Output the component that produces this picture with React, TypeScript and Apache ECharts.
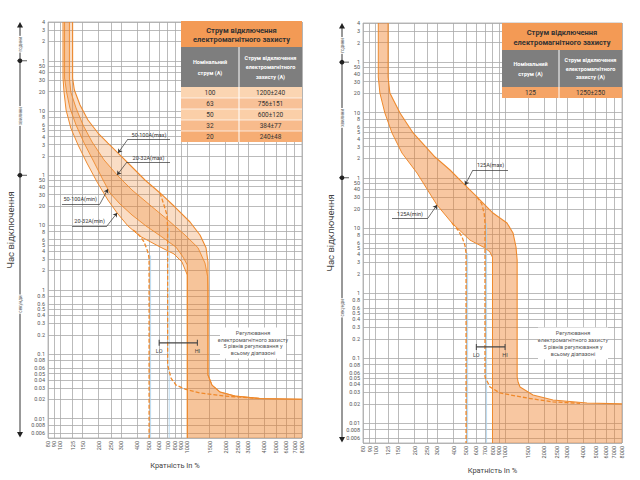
import React, { useEffect, useRef } from 'react';
import * as echarts from 'echarts';

// ---------- axes ----------
const xTickValues = [80, 90, 100, 125, 150, 200, 250, 300, 400, 500, 600, 700, 800, 900, 1000, 1500, 2000, 2500, 3000, 4000, 5000, 6000, 7000, 8000];
const yTickValues = [14400, 10800, 7200, 3600, 3000, 2400, 1800, 1200, 600, 480, 360, 300, 240, 180, 120, 60, 50, 40, 30, 20, 10, 8, 6, 5, 4, 3, 2, 1, 0.8, 0.6, 0.5, 0.4, 0.3, 0.2, 0.1, 0.08, 0.06, 0.05, 0.04, 0.03, 0.02, 0.01, 0.008, 0.006, 0.005];
const yTickLabels = ['4', '3', '2', '1', '50', '40', '30', '20', '10', '8', '6', '5', '4', '3', '2', '1', '50', '40', '30', '20', '10', '8', '6', '5', '4', '3', '2', '1', '0.8', '0.6', '0.5', '0.4', '0.3', '0.2', '0.1', '0.08', '0.06', '0.05', '0.04', '0.03', '0.02', '0.01', '0.008', '0.006', '0.005'];

// ---------- left panel curves: [In %, seconds] ----------
const curve2032Min = [[105, 14400], [105, 1945], [107, 1179], [111, 619], [121, 325], [138, 177], [162, 93], [195, 47], [237, 24.8], [280, 15.6], [341, 9.8], [424, 6.8], [588, 4.8], [786, 3.6], [908, 2.7], [1000, 1.7], [1000, 0.005]];
const curve50100Min = [[108, 14400], [108, 1945], [112, 1179], [119, 665], [133, 362], [154, 190], [184, 96.5], [217, 50.7], [246, 31.9], [295, 21.5], [367, 14.5], [473, 9.8], [632, 6.6], [815, 4.6], [925, 3.23], [1000, 2.43], [1000, 0.005]];
const curve2032Max = [[118, 14400], [118, 1945], [121, 1179], [133, 665], [151, 362], [178, 197], [221, 104], [280, 60.6], [367, 35.4], [508, 20.7], [705, 12.1], [959, 7.1], [1214, 4.5], [1378, 2.6], [1445, 1.6], [1455, 1.0], [1455, 0.0475], [1564, 0.0332], [1809, 0.0259], [2374, 0.0224], [3736, 0.0205], [8000, 0.02]];
const curve50100Max = [[125, 14400], [125, 1945], [129, 1266], [143, 741], [165, 433], [198, 272], [237, 190], [285, 133], [354, 86.7], [464, 50.7], [610, 31.9], [800, 19.3], [1050, 11.3], [1259, 7.1], [1404, 4.5], [1455, 2.7], [1455, 0.0475], [1564, 0.0332], [1809, 0.0259], [2374, 0.0224], [3736, 0.0205], [8000, 0.02]];
const leftDashLoMin = [[375, 8.5], [420, 7.0], [455, 5.6], [478, 4.4], [494, 3.6], [500, 3.0], [500, 0.005]];
const leftDashLoMax = [[610, 31.9], [655, 20.7], [692, 14.5], [700, 9.1], [700, 0.068], [744, 0.0427], [815, 0.0332], [959, 0.0288], [1259, 0.025], [1981, 0.0224], [3736, 0.0205]];
const leftBlue1 = [[514, 3.4], [514, 0.005]];
const leftBlue2 = [[720, 9], [720, 0.005]];
const leftLoHi = [[600, 0.15], [1200, 0.15]];

// ---------- right panel curves ----------
const curve125Min = [[105, 14400], [105, 2128], [108, 1207], [118, 595], [134, 293], [160, 144], [209, 71], [298, 22.9], [389, 12.1], [536, 6.6], [700, 5.0], [765, 4.33], [800, 3.6], [800, 0.005]];
const curve125Max = [[125, 14400], [125, 2128], [129, 1207], [154.5, 595], [195, 293], [288, 125], [376, 79], [491, 46.4], [607, 30.4], [807, 17.2], [1035, 12.1], [1152, 8.5], [1215, 5.17], [1240, 3.26], [1240, 0.0518], [1262, 0.043], [1305, 0.0363], [1644, 0.0274], [2346, 0.0229], [4294, 0.0206], [8000, 0.02]];
const rightDashLoMin = [[389, 12.1], [433, 9.4], [465, 7.4], [490, 5.5], [500, 4.2], [500, 0.005]];
const rightDashLoMax = [[607, 30.4], [660, 24], [690, 17], [700, 12], [700, 0.052], [765, 0.0363], [914, 0.0294], [1477, 0.0246], [2346, 0.0214], [3792, 0.0204]];
const rightBlue1 = [[514, 4.2], [514, 0.005]];
const rightBlue2 = [[720, 12], [720, 0.005]];
const rightLoHi = [[600, 0.15], [1000, 0.15]];

// ---------- annotations ----------
const leftNotes = [
  { text: '50-100A(max)', from: [341, 219.6], to: [731, 219.6], tip: [285, 133], atStart: true, pos: 'insideMiddleTop' },
  { text: '20-32A(max)', from: [335, 96.5], to: [731, 96.5], tip: [280, 60.6], atStart: true, pos: 'insideMiddleTop' },
  { text: '50-100A(min)', from: [103, 21.5], to: [205, 21.5], tip: [237, 36.6], atStart: false, pos: 'insideStartTop' },
  { text: '20-32A(min)', from: [124, 9.8], to: [233, 9.8], tip: [280, 15.6], atStart: false, pos: 'insideMiddleTop' },
];
const rightNotes = [
  { text: '125A(max)', from: [565, 79], to: [1054, 79], tip: [491, 46.4], atStart: true, pos: 'insideMiddleTop' },
  { text: '125A(min)', from: [134, 14.4], to: [254, 14.4], tip: [298, 22.9], atStart: false, pos: 'insideMiddleTop' },
];

// ---------- table texts ----------
const tableTitle = ['Струм відключення', 'електромагнітного захисту'];
const tableColHead1 = ['Номінальний', 'струм (А)'];
const tableColHead2 = ['Струм відключення', 'електромагнітного', 'захисту (А)'];
const leftRatings = ['100', '63', '50', '32', '20'];
const leftTripCurrents = ['1200±240', '756±151', '600±120', '384±77', '240±48'];
const rightRatings = ['125'];
const rightTripCurrents = ['1250±250'];
const adjustText = ['Регулювання', 'електромагнітного захисту', '5 рівнів регулювання у', 'всьому діапазоні'];
const timeUnits = ['години', 'хвилини', 'секунди'];
const loHiLabels = ['LO', 'HI'];

const FONT = 'Roboto, "Noto Sans", sans-serif';
const GRIDC = '#aaaaaa';
const ORANGE = '#ee8a2e';
const DASH = '#f0892a';

const yLabelFor = (v: number) => {
  let best = 0;
  let bd = Infinity;
  yTickValues.forEach((t, i) => {
    const d = Math.abs(Math.log(v / t));
    if (d < bd) { bd = d; best = i; }
  });
  return yTickLabels[best];
};

function xAxisOf(i: number) {
  return {
    type: 'log', logBase: 10, min: 80, max: 8000, gridIndex: i,
    name: 'Кратність In %', nameLocation: 'middle', nameGap: i === 0 ? 20 : 17,
    nameTextStyle: { fontSize: 7.5, color: '#444', fontFamily: FONT },
    axisLine: { show: false },
    axisTick: { show: false, customValues: xTickValues },
    axisLabel: { customValues: xTickValues, rotate: 90, fontSize: 5.5, color: '#555', margin: 3, fontFamily: FONT, formatter: (v: number) => String(Math.round(v)) },
    splitLine: { show: true, lineStyle: { color: GRIDC, width: 0.8 } },
    minorTick: { show: false }, minorSplitLine: { show: false },
  };
}
function yAxisOf(i: number) {
  return {
    type: 'log', logBase: 10, min: 0.005, max: 14400, gridIndex: i,
    name: 'Час відключення', nameLocation: 'middle', nameGap: i === 0 ? 33 : 28, nameRotate: 90,
    nameTextStyle: { fontSize: 9.5, color: '#444', fontFamily: FONT },
    axisLine: { show: false },
    axisTick: { show: false, customValues: yTickValues },
    axisLabel: { customValues: yTickValues, fontSize: 5.5, color: '#555', margin: 3, fontFamily: FONT, formatter: (v: number) => yLabelFor(v) },
    splitLine: { show: true, lineStyle: { color: GRIDC, width: 0.8 } },
    minorTick: { show: false }, minorSplitLine: { show: false },
  };
}

function fillSeries(gi: number, lower: number[][], upper: number[][], color: string) {
  return {
    type: 'custom', xAxisIndex: gi, yAxisIndex: gi, silent: true, z: 1,
    data: [[200, 1]],
    renderItem: (_p: any, api: any) => {
      const pts = lower.concat([[8000, 0.005]], upper.slice().reverse()).map((p) => api.coord(p));
      return { type: 'polygon', shape: { points: pts }, style: { fill: color } };
    },
  };
}
function lineSeries(gi: number, data: number[][], style: any, extra: any = {}) {
  return {
    type: 'line', xAxisIndex: gi, yAxisIndex: gi, data, symbol: 'none', showSymbol: false, silent: true, z: 3,
    lineStyle: { color: ORANGE, width: 1, ...style }, ...extra,
  };
}
function notesMarkLine(notes: any[]) {
  const data: any[] = [];
  notes.forEach((n) => {
    data.push([
      { coord: n.from, symbol: 'none', label: { show: true, formatter: n.text, position: n.pos, fontSize: 5.5, color: '#333', fontFamily: FONT, distance: 1.5 } },
      { coord: n.to, symbol: 'none' },
    ]);
    data.push([
      { coord: n.atStart ? n.from : n.to, symbol: 'none' },
      { coord: n.tip, symbol: 'arrow' },
    ]);
  });
  return {
    silent: true, animation: false, symbolSize: 4,
    lineStyle: { type: 'solid', color: '#333', width: 0.7 },
    label: { show: false },
    data,
  };
}
function loHiSeries(gi: number, pts: number[][]) {
  return {
    type: 'line', xAxisIndex: gi, yAxisIndex: gi, silent: true, z: 4,
    data: pts.map((p, i) => ({ value: p, label: { show: true, formatter: loHiLabels[i] } })),
    symbol: 'rect', symbolSize: [1, 6], showSymbol: true,
    lineStyle: { color: '#444', width: 1.2 }, itemStyle: { color: '#444' },
    label: { position: 'bottom', distance: 2, fontSize: 5.5, color: '#444', fontFamily: FONT },
  };
}

function buildOption() {
  const bandL = 'rgba(238,128,40,0.27)';
  const bandR = 'rgba(238,128,40,0.44)';
  const blue = { color: '#a8d0ec', width: 0.8 };
  const dashed = { color: DASH, width: 1.3, type: [4, 2] };
  return {
    animation: false,
    backgroundColor: '#fff',
    grid: [
      { left: 48, top: 22, width: 254, height: 416, show: true, borderColor: GRIDC, borderWidth: 0.8, outerBoundsMode: 'none' },
      { left: 363, top: 23, width: 259, height: 420, show: true, borderColor: GRIDC, borderWidth: 0.8, outerBoundsMode: 'none' },
    ],
    xAxis: [xAxisOf(0), xAxisOf(1)],
    yAxis: [yAxisOf(0), yAxisOf(1)],
    series: [
      fillSeries(0, curve2032Min, curve2032Max, bandL),
      fillSeries(0, curve50100Min, curve50100Max, bandL),
      lineSeries(0, leftBlue1, blue, { z: 2 }),
      lineSeries(0, leftBlue2, blue, { z: 2 }),
      lineSeries(0, curve2032Min, { width: 1 }, { markLine: notesMarkLine(leftNotes) }),
      lineSeries(0, curve50100Min, { width: 0.9 }),
      lineSeries(0, curve2032Max, { width: 0.9 }),
      lineSeries(0, curve50100Max, { width: 1.1 }),
      lineSeries(0, leftDashLoMin, dashed),
      lineSeries(0, leftDashLoMax, dashed),
      loHiSeries(0, leftLoHi),

      fillSeries(1, curve125Min, curve125Max, bandR),
      lineSeries(1, rightBlue1, blue, { z: 2 }),
      lineSeries(1, rightBlue2, blue, { z: 2 }),
      lineSeries(1, curve125Min, { width: 1 }, { markLine: notesMarkLine(rightNotes) }),
      lineSeries(1, curve125Max, { width: 1.1 }),
      lineSeries(1, rightDashLoMin, dashed),
      lineSeries(1, rightDashLoMax, dashed),
      loHiSeries(1, rightLoHi),
    ],
  };
}

function tableGraphics(x0: number, x1: number, xs: number, yTop: number, yHead: number, yGray: number, rowH: number, ratings: string[], currents: string[], rowColors: string[]) {
  const els: any[] = [];
  const Z = 100;
  els.push({ type: 'rect', z: Z, shape: { x: x0, y: yTop, width: x1 - x0, height: yHead - yTop }, style: { fill: '#f39a55' } });
  els.push({ type: 'rect', z: Z, shape: { x: x0, y: yHead, width: x1 - x0, height: yGray - yHead }, style: { fill: '#7e7e7e' } });
  const cx = (x0 + x1) / 2;
  const c1 = (x0 + xs) / 2;
  const c2 = (xs + x1) / 2;
  const hh = yHead - yTop;
  [0.36, 0.73].forEach((f, i) => {
    els.push({ type: 'text', z: Z + 1, x: cx, y: yTop + hh * f, style: { text: tableTitle[i], fill: '#333', fontSize: 7.5, fontWeight: 'bold', fontFamily: FONT, align: 'center', verticalAlign: 'middle' } });
  });
  const gh = yGray - yHead;
  [0.38, 0.65].forEach((f, i) => {
    els.push({ type: 'text', z: Z + 1, x: c1, y: yHead + gh * f, style: { text: tableColHead1[i], fill: '#fff', fontSize: 5.5, fontWeight: 'bold', fontFamily: FONT, align: 'center', verticalAlign: 'middle' } });
  });
  [0.27, 0.5, 0.74].forEach((f, i) => {
    els.push({ type: 'text', z: Z + 1, x: c2, y: yHead + gh * f, style: { text: tableColHead2[i], fill: '#fff', fontSize: 5.5, fontWeight: 'bold', fontFamily: FONT, align: 'center', verticalAlign: 'middle' } });
  });
  ratings.forEach((r, i) => {
    const y = yGray + i * rowH;
    els.push({ type: 'rect', z: Z, shape: { x: x0, y, width: x1 - x0, height: rowH }, style: { fill: rowColors[i % rowColors.length] } });
    if (i > 0) els.push({ type: 'line', z: Z + 1, shape: { x1: x0, y1: y, x2: x1, y2: y }, style: { stroke: '#fff', lineWidth: 0.7 } });
    els.push({ type: 'text', z: Z + 1, x: c1, y: y + rowH / 2 + 0.5, style: { text: r, fill: '#333', fontSize: 6.5, fontFamily: FONT, align: 'center', verticalAlign: 'middle' } });
    els.push({ type: 'text', z: Z + 1, x: c2, y: y + rowH / 2 + 0.5, style: { text: currents[i], fill: '#333', fontSize: 6.5, fontFamily: FONT, align: 'center', verticalAlign: 'middle' } });
  });
  const yEnd = yGray + ratings.length * rowH;
  els.push({ type: 'line', z: Z + 1, shape: { x1: xs, y1: yHead, x2: xs, y2: yEnd }, style: { stroke: '#fff', lineWidth: 1 } });
  return els;
}

function noteBox(cx: number, cy: number, w: number, h: number) {
  return [
    { type: 'rect', z: 90, shape: { x: cx - w / 2, y: cy - h / 2, width: w, height: h }, style: { fill: '#fff' } },
    { type: 'text', z: 91, x: cx, y: cy, style: { text: adjustText.join('\n'), fill: '#555', fontSize: 5.5, lineHeight: 6.7, fontFamily: FONT, align: 'center', verticalAlign: 'middle' } },
  ];
}

function sideGraphics(chart: any, i: number, ax: number) {
  const yAt = (v: number) => chart.convertToPixel({ yAxisIndex: i }, v) as number;
  const top = yAt(14400);
  const bot = yAt(0.005);
  const els: any[] = [];
  els.push({ type: 'line', z: 50, shape: { x1: ax, y1: top + 3, x2: ax, y2: bot - 3 }, style: { stroke: '#333', lineWidth: 1 } });
  els.push({ type: 'polygon', z: 51, shape: { points: [[ax, top], [ax - 3, top + 5.5], [ax + 3, top + 5.5]] }, style: { fill: '#222' } });
  els.push({ type: 'polygon', z: 51, shape: { points: [[ax, bot - 0.5], [ax - 3, bot - 6], [ax + 3, bot - 6]] }, style: { fill: '#222' } });
  [3600, 60].forEach((v) => {
    const y = yAt(v);
    els.push({ type: 'line', z: 51, shape: { x1: ax - 3, y1: y, x2: ax + 7, y2: y }, style: { stroke: '#333', lineWidth: 0.8 } });
    els.push({ type: 'circle', z: 52, shape: { cx: ax, cy: y, r: 2.3 }, style: { fill: '#222' } });
  });
  [6500, 500, 0.6].forEach((v, k) => {
    els.push({ type: 'text', z: 53, x: ax, y: yAt(v), rotation: Math.PI / 2, style: { text: timeUnits[k], fill: '#666', fontSize: 4.5, fontFamily: FONT, align: 'center', verticalAlign: 'middle', backgroundColor: '#fff', padding: [1, 1] } });
  });
  return els;
}

function buildGraphics(chart: any) {
  const leftRows = ['#fbd5b2', '#f8c197', '#fbcfa8', '#f8bb8c', '#f6ad74'];
  const rightRows = ['#f5a466'];
  return [
    ...tableGraphics(181, 302, 239, 21, 47, 87, 11, leftRatings, leftTripCurrents, leftRows),
    ...tableGraphics(502, 622, 559, 23, 50, 87, 11, rightRatings, rightTripCurrents, rightRows),
    ...noteBox(253, 343, 66, 31),
    ...noteBox(573, 343.5, 70, 32),
    ...sideGraphics(chart, 0, 20),
    ...sideGraphics(chart, 1, 342),
  ];
}

export default function App() {
  const ref = useRef<HTMLDivElement>(null);
  useEffect(() => {
    const el = ref.current as HTMLDivElement;
    const chart = echarts.init(el, null, { renderer: 'svg' });
    chart.setOption(buildOption() as any);
    chart.setOption({ graphic: buildGraphics(chart) } as any);
    return () => chart.dispose();
  }, []);
  return <div ref={ref} style={{ position: 'absolute', left: 0, top: 0, width: 640, height: 480, background: '#fff' }} />;
}
